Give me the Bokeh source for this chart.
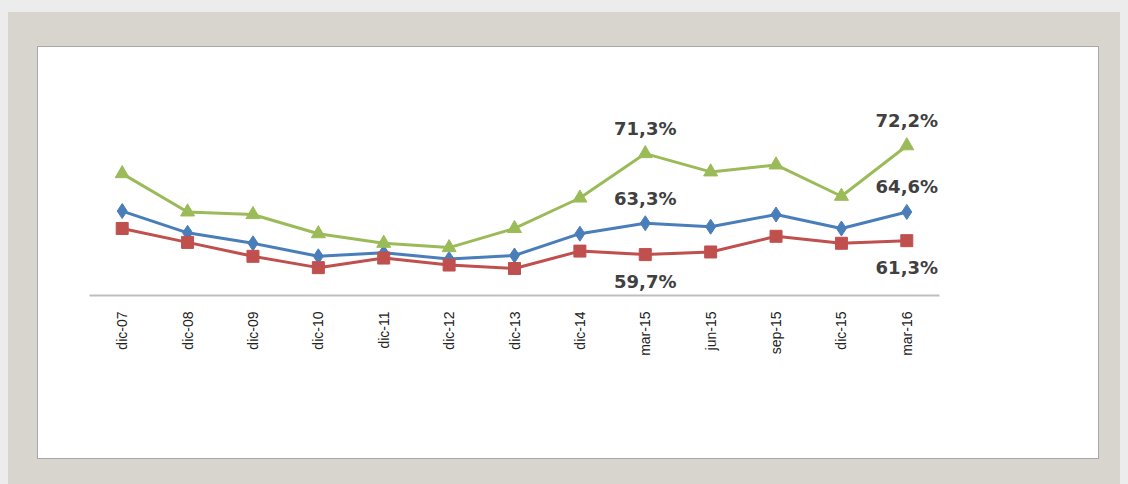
import math
from bokeh.plotting import figure
from bokeh.models import ColumnDataSource, Legend, LegendItem, Range1d, FactorRange
from bokeh.core.properties import value
from bokeh.embed import file_html
from bokeh.resources import INLINE

# ---- data ----
categories = ["dic-07", "dic-08", "dic-09", "dic-10", "dic-11", "dic-12", "dic-13",
              "dic-14", "mar-15", "jun-15", "sep-15", "dic-15", "mar-16"]
nacional = [64.7, 62.2, 61.0, 59.5, 59.9, 59.2, 59.6, 62.1, 63.3, 62.9, 64.3, 62.7, 64.6]
urbano   = [62.7, 61.1, 59.5, 58.2, 59.3, 58.5, 58.1, 60.1, 59.7, 60.0, 61.8, 61.0, 61.3]
rural    = [69.0, 64.6, 64.3, 62.1, 61.0, 60.5, 62.7, 66.2, 71.3, 69.2, 70.0, 66.4, 72.2]
labeled_categories = ["mar-15", "mar-16"]

BLUE = "#4A7EBB"
RED = "#C0504D"
GREEN = "#9BBB59"
TEXT = "#404040"
BEIGE = "#D7D5CD"

src = ColumnDataSource(dict(x=categories, nac=nacional, urb=urbano, rur=rural))

# panel decoration: beige frame with a white inner card (drawn with CSS)
bg = ("linear-gradient(#ffffff,#ffffff) 38px 47px / 1060px 411px no-repeat, "
      "linear-gradient(#a8a8a8,#a8a8a8) 37px 46px / 1062px 413px no-repeat, "
      "linear-gradient(" + BEIGE + "," + BEIGE + ") 8px 12px / 1112px 480px no-repeat, "
      "#ececec")
# extend the decoration below the canvas down to the window bottom
shadow = ("4px 92px 0 -34px #ffffff, "
          "4px 92px 0 -33px #a8a8a8, "
          "0 92px 0 -8px " + BEIGE + ", "
          "0 84px 0 0 #ececec")

p = figure(x_range=FactorRange(*categories, range_padding=0), y_range=Range1d(55.0, 77.4),
           frame_width=850, frame_height=195, output_backend="svg", toolbar_location=None,
           y_axis_location=None, min_border_left=89, min_border_right=189,
           min_border_top=100, min_border_bottom=64,
           background_fill_color="white", border_fill_alpha=0,
           styles={"background": bg, "box-shadow": shadow})
p.outline_line_color = None
p.xgrid.grid_line_color = None
p.ygrid.grid_line_color = None

ax = p.xaxis[0]
ax.axis_line_color = "#BFBFBF"
ax.axis_line_width = 2
ax.major_tick_line_color = None
ax.minor_tick_line_color = None
ax.major_label_orientation = math.pi / 2
ax.major_label_standoff = 10
ax.major_label_text_font = "Liberation Sans"
ax.major_label_text_font_size = "14px"
ax.major_label_text_color = "#222222"

items = []
for key, color, marker, size, name in [("nac", BLUE, "diamond", 15, "Nacional"),
                                       ("urb", RED, "square", 12, "Urbano"),
                                       ("rur", GREEN, "triangle", 14, "Rural")]:
    ln = p.line("x", key, source=src, line_color=color, line_width=3)
    sc = p.scatter("x", key, source=src, marker=marker, size=size,
                   fill_color=color, line_color=color)
    items.append(LegendItem(label=name, renderers=[ln, sc]))

# data labels
lab_x, lab_y, lab_t, lab_off = [], [], [], []
for c in labeled_categories:
    i = categories.index(c)
    for vals, off in [(rural, -25), (nacional, -25), (urbano, 27)]:
        lab_x.append(c)
        lab_y.append(vals[i])
        lab_t.append(f"{vals[i]:.1f}%".replace(".", ","))
        lab_off.append(off)
lsrc = ColumnDataSource(dict(x=lab_x, y=lab_y, t=lab_t, off=lab_off))
p.text("x", "y", text="t", source=lsrc, y_offset="off",
       text_align="center", text_baseline="middle",
       text_font=value("DejaVu Sans"), text_font_style="bold",
       text_font_size="18px", text_color=TEXT)

legend = Legend(items=items, orientation="horizontal", location="center",
                glyph_width=80, glyph_height=20, label_standoff=5, spacing=55,
                label_text_font="DejaVu Sans", label_text_font_style="bold",
                label_text_font_size="18px", label_text_color=TEXT,
                border_line_color=None, background_fill_alpha=0,
                padding=0, margin=10)
p.add_layout(legend, "below")

open("out.html", "w").write(file_html(p, INLINE))
